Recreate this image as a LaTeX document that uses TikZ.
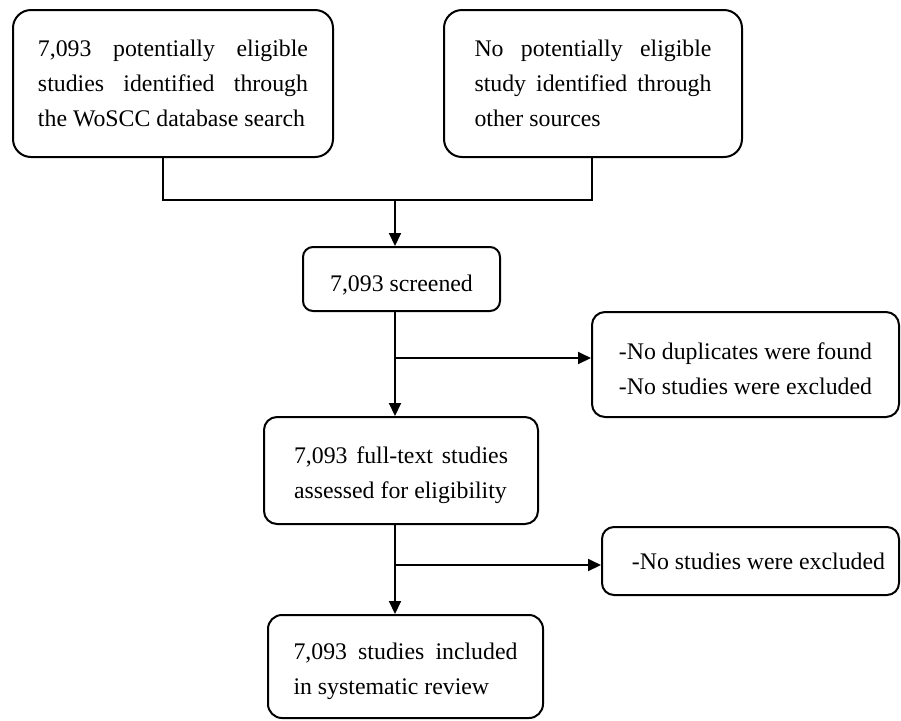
\documentclass[tikz,border=0pt]{standalone}
\usepackage{fontspec}
\setmainfont{Liberation Serif}
\usetikzlibrary{arrows.meta}
\hyphenpenalty=10000
\emergencystretch=20pt
\newcommand{\upstrut}{\rule{0pt}{13pt}}
\tikzset{
  box/.style={draw, line width=1pt, inner sep=0pt,
    font=\fontsize{11.9}{17.5}\selectfont},
  arr/.style={line width=1pt, -{Triangle[length=6.5pt,width=6pt]}},
  ln/.style={line width=1pt},
}
\begin{document}
\begin{tikzpicture}[x=0.5pt,y=-0.5pt]
\useasboundingbox (0,0) rectangle (901,720);
% top boxes
\node[box, rounded corners=9pt, minimum width=160pt, minimum height=73.5pt,
      text width=135pt, align=justify] (b1) at (173,83.5)
  {7,093 potentially eligible\linebreak studies identified through\linebreak the WoSCC database search};
\node[box, rounded corners=9pt, minimum width=149pt, minimum height=73.5pt,
      text width=118.5pt, align=justify] (b2) at (593,83.5)
  {No potentially eligible\linebreak study identified through\linebreak other sources};
% screened
\node[box, rounded corners=5pt, minimum width=98.5pt, minimum height=32pt] (scr) at (401.5,279)
  {\rule{0pt}{14pt}7,093 screened};
% side 1
\node[box, rounded corners=6.5pt, minimum width=153.5pt, minimum height=52.5pt,
      align=left] (s1) at (745.5,364.5)
  {\upstrut-No duplicates were found\\-No studies were excluded};
% full text
\node[box, rounded corners=6.5pt, minimum width=137pt, minimum height=53.5pt,
      text width=107pt, align=justify] (ft) at (401,470.5)
  {\upstrut7,093 full-text studies\linebreak assessed for eligibility};
% side 2
\node[box, rounded corners=6pt, minimum width=148.5pt, minimum height=34pt] (s2) at (750.5,561)
  {\hspace*{8pt}-No studies were excluded};
% final
\node[box, rounded corners=7pt, minimum width=137.5pt, minimum height=51.5pt,
      text width=112pt, align=justify] (fin) at (405.5,666.5)
  {\upstrut7,093 studies included\linebreak in systematic review};
% connectors
\coordinate (c1) at (163,200);
\coordinate (c2) at (592,200);
\coordinate (c0) at (395,200);
\coordinate (k1) at (395,358);
\coordinate (k2) at (395,565);
\draw[ln] (c1 |- b1.south) -- (c1) -- (c2) -- (c2 |- b2.south);
\draw[arr] (c0) -- (c0 |- scr.north);
\draw[arr] (k1 |- scr.south) -- (k1 |- ft.north);
\draw[arr] (k1) -- (k1 -| s1.west);
\draw[arr] (k2 |- ft.south) -- (k2 |- fin.north);
\draw[arr] (k2) -- (k2 -| s2.west);
\end{tikzpicture}
\end{document}
